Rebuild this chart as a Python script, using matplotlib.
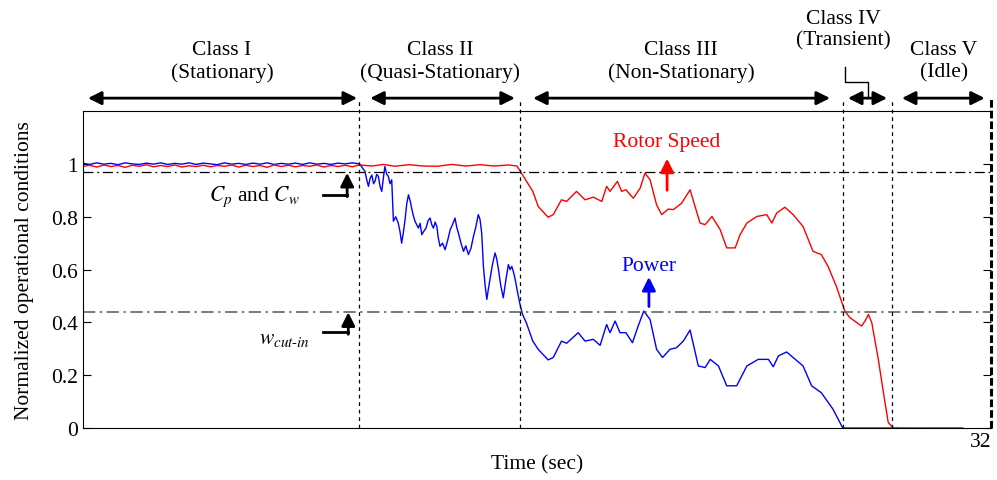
import numpy as np
import matplotlib.pyplot as plt

plt.rcParams['font.family'] = ['Liberation Serif', 'DejaVu Serif']
plt.rcParams['mathtext.fontset'] = 'stix'
plt.rcParams['font.size'] = 15.5

# Potencia normalizada (azul)
t_potencia = [0.0, 0.25, 0.5, 0.75, 1.0, 1.25, 1.5, 1.75, 2.0, 2.25, 2.5, 2.75, 3.0, 3.25, 3.5, 3.75,
              4.0, 4.25, 4.5, 4.75, 5.0, 5.25, 5.5, 5.75, 6.0, 6.25, 6.5, 6.75, 7.0, 7.25, 7.5, 7.75,
              8.0, 8.25, 8.5, 8.75, 9.0, 9.25, 9.5, 9.76,
              9.95, 10.01, 10.07, 10.13, 10.19, 10.25, 10.30, 10.36, 10.42, 10.48, 10.54, 10.60, 10.65,
              10.71, 10.77, 10.83, 10.89, 10.95, 11.03, 11.12, 11.18, 11.24, 11.30, 11.36,
              11.42, 11.48, 11.54, 11.59, 11.65, 11.71, 11.77, 11.83, 11.89, 11.95, 12.02, 12.10, 12.17,
              12.24, 12.30, 12.36, 12.42, 12.48, 12.53, 12.59, 12.68, 12.77, 12.86, 12.95, 13.03, 13.12,
              13.18, 13.24, 13.33, 13.42, 13.50, 13.59, 13.68, 13.77, 13.85, 13.94, 14.00, 14.06, 14.12,
              14.18, 14.24, 14.30, 14.35, 14.44, 14.53, 14.59, 14.65, 14.73, 14.82, 14.91, 15.00,
              15.06, 15.12, 15.18, 15.24, 15.33, 15.41, 15.50,
              15.63, 15.86, 16.05, 16.40, 16.58, 16.87, 17.05, 17.46, 17.70, 17.99, 18.23, 18.46, 18.58,
              18.76, 18.93, 19.14, 19.37, 19.57, 19.77, 19.99, 20.22, 20.43, 20.69, 20.92, 21.16, 21.40,
              21.69, 21.93, 22.11, 22.40, 22.69, 23.04, 23.40, 23.80, 24.16, 24.33, 24.51, 24.80, 25.03,
              25.38, 25.68, 26.02, 26.43, 26.78, 31.0]
potencia = [1.003, 0.998, 1.004, 0.999, 1.002, 0.997, 1.004, 1.0, 0.998, 1.003, 0.999, 1.004, 0.998, 1.002, 0.999, 1.004,
            0.998, 1.003, 1.0, 0.997, 1.004, 0.999, 1.002, 0.998, 1.003, 0.999, 1.004, 0.998, 1.002, 0.999, 1.003, 0.998,
            1.004, 0.999, 1.002, 0.998, 1.003, 1.0, 1.004, 1.0,
            0.971, 0.940, 0.915, 0.945, 0.958, 0.925, 0.934, 0.960, 0.953, 0.915, 0.896, 0.950, 0.990,
            0.962, 0.953, 0.925, 0.940, 0.783, 0.800, 0.776, 0.745, 0.700, 0.740, 0.789,
            0.850, 0.883, 0.860, 0.833, 0.805, 0.783, 0.770, 0.757, 0.775, 0.732, 0.745, 0.757, 0.785,
            0.795, 0.770, 0.757, 0.780, 0.763, 0.720, 0.688, 0.700, 0.675, 0.710, 0.751, 0.770, 0.795,
            0.760, 0.738, 0.700, 0.669, 0.690, 0.657, 0.680, 0.726, 0.760, 0.808, 0.790, 0.738, 0.612,
            0.540, 0.487, 0.530, 0.562, 0.620, 0.663, 0.640, 0.600, 0.540, 0.493, 0.560, 0.619,
            0.600, 0.612, 0.590, 0.562, 0.510, 0.468, 0.430,
            0.399, 0.329, 0.298, 0.258, 0.267, 0.329, 0.321, 0.361, 0.329, 0.336, 0.313, 0.392, 0.361,
            0.405, 0.361, 0.361, 0.323, 0.386, 0.443, 0.411, 0.298, 0.267, 0.298, 0.304, 0.329, 0.371,
            0.235, 0.229, 0.260, 0.235, 0.160, 0.160, 0.235, 0.260, 0.260, 0.232, 0.273, 0.288, 0.267,
            0.235, 0.160, 0.134, 0.072, 0.0, 0.0]

# Velocidad del rotor normalizada (rojo)
t_rotor = [0.0, 0.25, 0.5, 0.75, 1.0, 1.25, 1.5, 1.75, 2.0, 2.25, 2.5, 2.75, 3.0, 3.25, 3.5, 3.75,
           4.0, 4.25, 4.5, 4.75, 5.0, 5.25, 5.5, 5.75, 6.0, 6.25, 6.5, 6.75, 7.0, 7.25, 7.5, 7.75,
           8.0, 8.25, 8.5, 8.75, 9.0, 9.25, 9.5, 9.75,
           10.2, 10.6, 11.0, 11.5, 12.0, 12.5, 13.0, 13.5, 14.0, 14.5, 15.0, 15.3,
           15.46, 15.86, 16.05, 16.40, 16.58, 16.87, 17.05, 17.40, 17.70, 17.99, 18.29, 18.46, 18.58,
           18.84, 18.99, 19.14, 19.40, 19.64, 19.81, 19.99, 20.22, 20.40, 20.63, 20.81, 21.10, 21.40,
           21.75, 21.93, 22.17, 22.46, 22.69, 22.99, 23.16, 23.40, 23.75, 24.10, 24.28, 24.45, 24.74,
           25.03, 25.38, 25.73, 26.02, 26.26, 26.55, 26.85, 27.03, 27.44, 27.56, 27.68, 27.80, 28.03,
           28.21, 28.38, 28.56, 28.70]
rotor = [0.990, 0.995, 0.988, 0.996, 0.990, 0.994, 0.987, 0.995, 0.991, 0.997, 0.989, 0.994, 0.990, 0.996, 0.988, 0.993,
         0.990, 0.995, 0.989, 0.994, 0.991, 0.996, 0.988, 0.995, 0.990, 0.994, 0.987, 0.996, 0.990, 0.995, 0.989, 0.994,
         0.991, 0.996, 0.988, 0.994, 0.990, 0.995, 0.989, 0.996,
         0.992, 0.998, 0.991, 0.997, 0.992, 0.991, 0.998, 0.992, 0.997, 0.992, 0.996, 0.992,
         0.965, 0.896, 0.839, 0.798, 0.808, 0.864, 0.858, 0.896, 0.864, 0.874, 0.858, 0.915, 0.896,
         0.934, 0.896, 0.902, 0.870, 0.908, 0.965, 0.940, 0.845, 0.808, 0.829, 0.827, 0.851, 0.902,
         0.776, 0.770, 0.801, 0.751, 0.682, 0.682, 0.732, 0.776, 0.801, 0.808, 0.776, 0.814, 0.836,
         0.808, 0.763, 0.669, 0.657, 0.612, 0.537, 0.443, 0.418, 0.386, 0.405, 0.430, 0.399, 0.260,
         0.134, 0.021, 0.0, 0.0]

# Limites entre clases y umbrales
limites = [9.75, 15.4, 26.8, 28.5]
umbral_cp = 0.97
umbral_wcut = 0.44

clases = ["Class I\n(Stationary)", "Class II\n(Quasi-Stationary)", "Class III\n(Non-Stationary)",
          "Class IV\n(Transient)", "Class V\n(Idle)"]
clases_x = [4.91, 12.59, 21.08, 26.79, 30.34]
clases_y = [1.39, 1.39, 1.39, 1.51, 1.39]
flechas = [(0.19, 9.67), (10.13, 15.23), (15.87, 26.33), (26.96, 28.34), (28.86, 31.78)]

fig = plt.figure(figsize=(9.97, 4.81), dpi=100)
ax = fig.add_axes([0.0828, 0.108, 0.9112, 0.659])

ax.plot(t_potencia, potencia, color='blue', lw=1)
ax.plot(t_rotor, rotor, color='red', lw=1)
ax.plot([29.2, 29.5], [0.0, 0.0], color='#22bb22', lw=1)

ax.axhline(umbral_cp, color='k', lw=0.9, ls='-.', dashes=(8, 3, 1.5, 3))
ax.axhline(umbral_wcut, color='#555555', lw=1.1, ls='-.', dashes=(8, 3, 1.5, 3))
for lim in limites:
    ax.plot([lim, lim], [0, 1.245], color='k', lw=0.9, ls='--', dashes=(3, 3), clip_on=False)

# lado derecho punteado y grueso
ax.spines['right'].set_visible(False)
ax.plot([32, 32], [0, 1.255], color='k', lw=2.2, ls='--', dashes=(2.5, 1), clip_on=False)

ax.set_xlim(0, 32)
ax.set_ylim(0, 1.2)
ax.set_yticks([0, 0.2, 0.4, 0.6, 0.8, 1.0])
ax.set_yticklabels(['0', '0.2', '0.4', '0.6', '0.8', '1'])
ax.set_xticks([32])
ax.set_xticklabels(['32'], ha='right')
ax.tick_params(axis='y', direction='in', length=6, right=True, labelsize=15.5)
ax.tick_params(axis='x', direction='in', length=0, labelsize=15.5, pad=3)
ax.set_xlabel("Time (sec)", fontsize=15.5, labelpad=2)
ax.set_ylabel("Normalized operational conditions", fontsize=15.5, labelpad=12)

# flechas de cada clase
for (x0, x1), txt, cx, cy in zip(flechas, clases, clases_x, clases_y):
    ax.annotate('', xy=(x1, 1.249), xytext=(x0, 1.249),
                arrowprops=dict(arrowstyle='<|-|>', color='k', lw=2, mutation_scale=20,
                                shrinkA=0, shrinkB=0),
                annotation_clip=False)
    ax.text(cx, cy, txt, ha='center', va='center', fontsize=15.5, clip_on=False)

ax.plot([26.85, 26.85, 27.67, 27.67], [1.366, 1.309, 1.309, 1.249], color='k', lw=1, clip_on=False)

# etiquetas de las curvas
ax.text(20.59, 1.085, "Rotor Speed", color='red', ha='center', va='center', fontsize=15.5)
ax.annotate('', xy=(20.59, 1.02), xytext=(20.59, 0.90),
            arrowprops=dict(arrowstyle='-|>', color='red', lw=2, mutation_scale=20, shrinkA=0, shrinkB=0))
ax.text(19.95, 0.615, "Power", color='blue', ha='center', va='center', fontsize=15.5)
ax.annotate('', xy=(19.95, 0.572), xytext=(19.95, 0.46),
            arrowprops=dict(arrowstyle='-|>', color='blue', lw=2, mutation_scale=20, shrinkA=0, shrinkB=0))

# umbrales
ax.plot([8.47, 9.32], [0.883, 0.883], color='k', lw=2)
ax.annotate('', xy=(9.32, 0.966), xytext=(9.32, 0.876),
            arrowprops=dict(arrowstyle='-|>', color='k', lw=2, mutation_scale=20, shrinkA=0, shrinkB=0))
ax.text(6.07, 0.879, r"$C_p$ and $C_w$", ha='center', va='center', fontsize=15.5)

ax.plot([8.47, 9.36], [0.362, 0.362], color='k', lw=2)
ax.annotate('', xy=(9.36, 0.438), xytext=(9.36, 0.355),
            arrowprops=dict(arrowstyle='-|>', color='k', lw=2, mutation_scale=20, shrinkA=0, shrinkB=0))
ax.text(7.1, 0.34, r"$w_{cut\text{-}in}$", ha='center', va='center', fontsize=15.5)

fig.savefig("out.png", dpi=100)
